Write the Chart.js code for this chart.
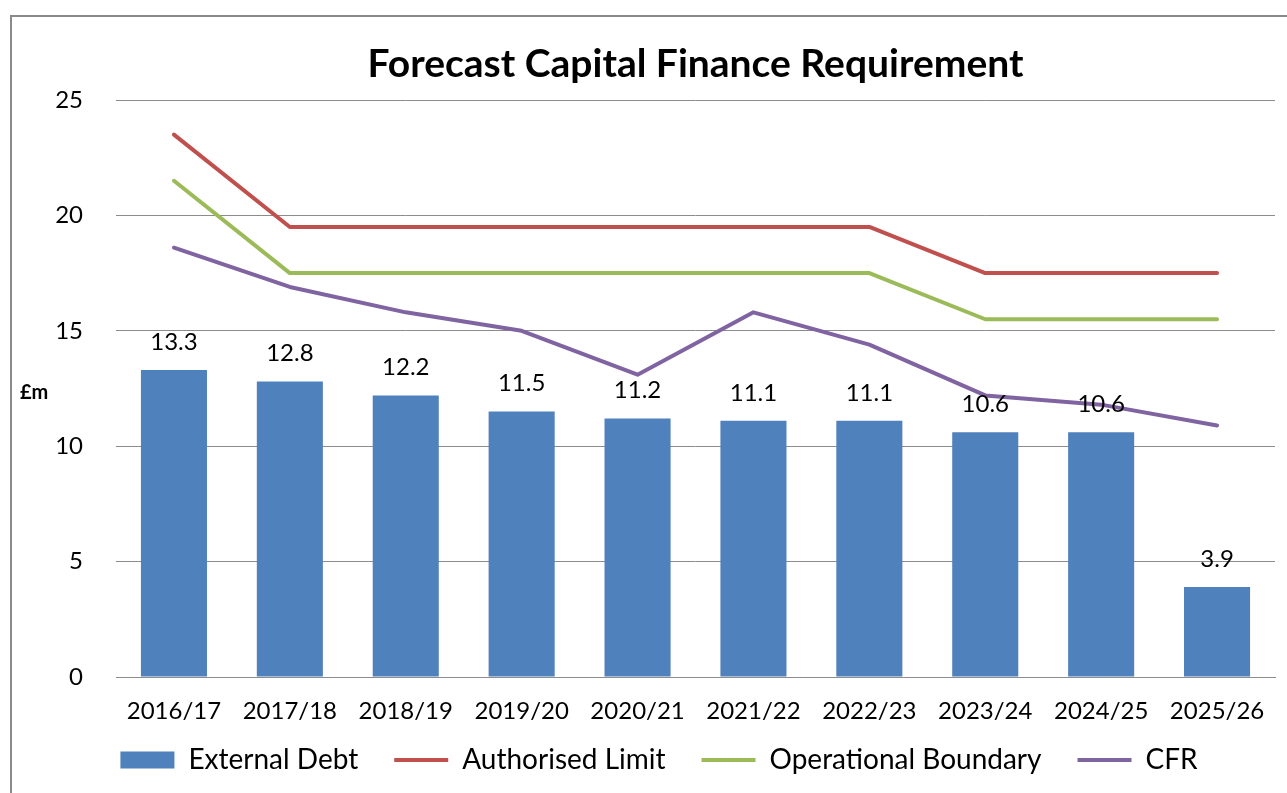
<!DOCTYPE html>
<html>
<head>
<meta charset="utf-8">
<script src="https://cdn.jsdelivr.net/npm/chart.js@4/dist/chart.umd.min.js"></script>
<style>
  html, body { margin: 0; padding: 0; background: #fff; overflow: hidden; }
  #frame { position: absolute; left: 10px; top: 15px; width: 1400px; height: 900px; border: 2px solid #8a8a8a; }
  #cfr_chart { position: absolute; left: 0; top: 0; }
</style>
</head>
<body>
<div id="frame"></div>
<canvas id="cfr_chart" width="1287" height="793"></canvas>
<script>
// years on the x axis
const years = ["2016/17","2017/18","2018/19","2019/20","2020/21","2021/22","2022/23","2023/24","2024/25","2025/26"];
// £m values
const externalDebt = [13.3, 12.8, 12.2, 11.5, 11.2, 11.1, 11.1, 10.6, 10.6, 3.9];
const authorisedLimit = [23.5, 19.5, 19.5, 19.5, 19.5, 19.5, 19.5, 17.5, 17.5, 17.5];
const operationalBoundary = [21.5, 17.5, 17.5, 17.5, 17.5, 17.5, 17.5, 15.5, 15.5, 15.5];
const cfr = [18.6, 16.9, 15.8, 15.0, 13.1, 15.8, 14.4, 12.2, 11.8, 10.9];
const yTicks = [0, 5, 10, 15, 20, 25];

const FONT = "Lato, 'Open Sans', sans-serif";
const LEGEND_PAD = 36;

// value labels over the bars + the "£m" axis caption
const barLabels = {
    id: 'barLabels',
    afterDatasetsDraw(chart) {
        const ctx = chart.ctx;
        const meta = chart.getDatasetMeta(0);
        ctx.save();
        ctx.font = "24px " + FONT;
        ctx.fillStyle = "#000";
        ctx.textAlign = "center";
        ctx.textBaseline = "middle";
        meta.data.forEach((bar, i) => {
            ctx.fillText(externalDebt[i].toFixed(1), bar.x, bar.y - 28);
        });
        ctx.font = "bold 20px " + FONT;
        ctx.textAlign = "left";
        ctx.fillText("£m", 20, 393);
        ctx.restore();
    }
};

const cfrChart = new Chart(document.getElementById("cfr_chart"), {
    type: 'bar',
    data: {
        labels: years,
        datasets: [{
            type: 'bar',
            label: "External Debt",
            data: externalDebt,
            backgroundColor: "#4F81BD",
            barPercentage: 0.57,
            categoryPercentage: 1,
            pointStyle: 'rect'
        }, {
            type: 'line',
            label: "Authorised Limit",
            data: authorisedLimit,
            borderColor: "#C0504D",
            backgroundColor: "#C0504D",
            borderWidth: 4,
            pointRadius: 0,
            pointStyle: 'line',
            fill: false
        }, {
            type: 'line',
            label: "Operational Boundary",
            data: operationalBoundary,
            borderColor: "#9BBB59",
            backgroundColor: "#9BBB59",
            borderWidth: 4,
            pointRadius: 0,
            pointStyle: 'line',
            fill: false
        }, {
            type: 'line',
            label: "CFR",
            data: cfr,
            borderColor: "#8064A2",
            backgroundColor: "#8064A2",
            borderWidth: 4,
            pointRadius: 0,
            pointStyle: 'line',
            fill: false
        }]
    },
    options: {
        responsive: false,
        animation: false,
        layout: {
            padding: { left: 43, right: 12, top: 0, bottom: 9 }
        },
        elements: {
            line: { tension: 0, borderJoinStyle: 'round', borderCapStyle: 'round' }
        },
        plugins: {
            title: {
                display: true,
                fullSize: false,
                text: 'Forecast Capital Finance Requirement',
                color: "#000",
                font: { family: FONT, size: 39, weight: 'bold' },
                padding: { top: 41, bottom: 12.2 }
            },
            legend: {
                position: 'bottom',
                labels: {
                    usePointStyle: true,
                    pointStyleWidth: 54,
                    boxHeight: 17,
                    padding: LEGEND_PAD,
                    color: "#000",
                    font: { family: FONT, size: 28 }
                }
            },
            tooltip: { enabled: false }
        },
        scales: {
            x: {
                grid: { drawOnChartArea: false, drawTicks: false },
                border: { color: "#8c8c8c", width: 1 },
                ticks: { color: "#000", padding: 20, font: { family: FONT, size: 24 } },
                afterFit(scale) {
                    // axis box is kept short so the legend sits lower; labels may run past it
                    scale.height = 69 - LEGEND_PAD;
                    scale._computeLabelArea = () => null;
                }
            },
            y: {
                min: 0,
                max: 25,
                afterBuildTicks(scale) { scale.ticks = yTicks.map(v => ({ value: v })); },
                grid: { color: "#8c8c8c", lineWidth: 1, drawTicks: false },
                border: { display: false },
                ticks: { color: "#000", padding: 33, font: { family: FONT, size: 24 } },
                afterFit(scale) { scale.width = 73; }
            }
        }
    },
    plugins: [barLabels]
});
</script>
</body>
</html>
